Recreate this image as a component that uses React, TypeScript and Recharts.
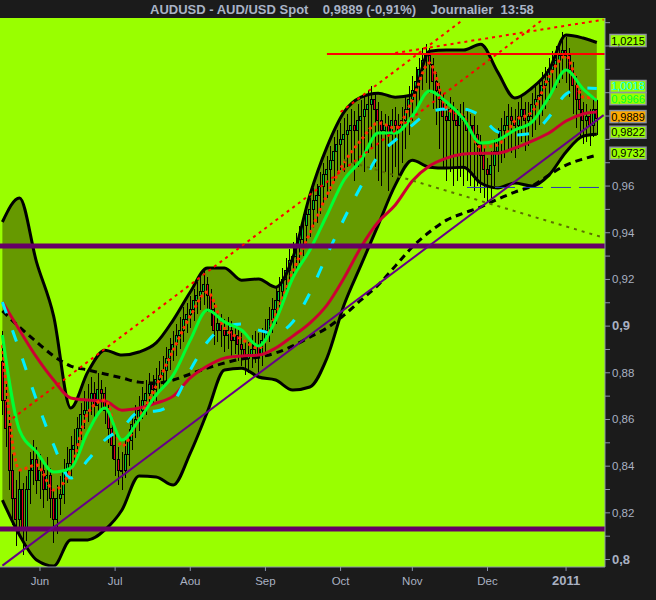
import React from 'react';
import { ComposedChart, Bar, Line, Area, XAxis, YAxis, CartesianGrid, ReferenceLine } from 'recharts';

const FONT = '"Liberation Sans", Arial, sans-serif';

// daily candles, index 0 = 17 May 2010 (weekdays only)
const opens = [
  0.885, 0.868, 0.857, 0.838, 0.826, 0.817, 0.830, 0.813, 0.830, 0.838,
  0.843, 0.834, 0.838, 0.830, 0.836, 0.826, 0.817, 0.826, 0.828, 0.838,
  0.841, 0.847, 0.849, 0.856, 0.862, 0.864, 0.868, 0.871, 0.866, 0.873,
  0.871, 0.864, 0.856, 0.849, 0.843, 0.838, 0.838, 0.845, 0.851, 0.858,
  0.860, 0.864, 0.868, 0.871, 0.875, 0.873, 0.877, 0.879, 0.881, 0.886,
  0.890, 0.892, 0.896, 0.898, 0.903, 0.905, 0.907, 0.911, 0.913, 0.915,
  0.918, 0.913, 0.907, 0.898, 0.901, 0.898, 0.896, 0.898, 0.894, 0.896,
  0.892, 0.890, 0.886, 0.888, 0.890, 0.892, 0.888, 0.894, 0.898, 0.903,
  0.907, 0.911, 0.915, 0.920, 0.924, 0.928, 0.930, 0.935, 0.937, 0.943,
  0.948, 0.950, 0.954, 0.956, 0.960, 0.965, 0.967, 0.971, 0.975, 0.978,
  0.980, 0.982, 0.984, 0.986, 0.984, 0.988, 0.990, 0.993, 0.995, 0.997,
  0.993, 0.988, 0.984, 0.986, 0.982, 0.988, 0.986, 0.984, 0.988, 0.993,
  0.997, 1.001, 1.005, 1.010, 1.014, 1.016, 1.012, 1.005, 1.001, 0.997,
  0.990, 0.988, 0.993, 0.988, 0.986, 0.990, 0.988, 0.984, 0.986, 0.982,
  0.978, 0.973, 0.967, 0.965, 0.969, 0.975, 0.980, 0.984, 0.986, 0.990,
  0.988, 0.986, 0.990, 0.993, 0.988, 0.990, 0.995, 0.997, 0.999, 1.003,
  1.005, 1.010, 1.012, 1.014, 1.016, 1.018, 1.016, 1.010, 1.003, 0.997,
  0.993, 0.988, 0.990, 0.986, 0.993,
];
const closes = [
  0.868, 0.856, 0.838, 0.826, 0.817, 0.830, 0.813, 0.830, 0.838, 0.843,
  0.834, 0.838, 0.830, 0.836, 0.826, 0.817, 0.826, 0.828, 0.838, 0.841,
  0.847, 0.849, 0.856, 0.862, 0.864, 0.868, 0.871, 0.866, 0.873, 0.871,
  0.864, 0.856, 0.849, 0.843, 0.838, 0.838, 0.845, 0.851, 0.858, 0.860,
  0.864, 0.868, 0.871, 0.875, 0.873, 0.877, 0.879, 0.881, 0.886, 0.890,
  0.892, 0.896, 0.898, 0.903, 0.905, 0.907, 0.911, 0.913, 0.915, 0.918,
  0.913, 0.907, 0.898, 0.901, 0.898, 0.896, 0.898, 0.894, 0.896, 0.892,
  0.890, 0.886, 0.888, 0.890, 0.892, 0.888, 0.894, 0.898, 0.903, 0.907,
  0.911, 0.915, 0.920, 0.924, 0.928, 0.930, 0.935, 0.937, 0.943, 0.948,
  0.950, 0.954, 0.956, 0.960, 0.965, 0.967, 0.971, 0.975, 0.978, 0.980,
  0.982, 0.984, 0.986, 0.984, 0.988, 0.990, 0.993, 0.995, 0.997, 0.993,
  0.988, 0.984, 0.986, 0.982, 0.988, 0.986, 0.984, 0.988, 0.993, 0.997,
  1.001, 1.005, 1.010, 1.014, 1.016, 1.012, 1.005, 1.001, 0.997, 0.990,
  0.988, 0.993, 0.988, 0.986, 0.990, 0.988, 0.984, 0.986, 0.982, 0.978,
  0.973, 0.967, 0.965, 0.969, 0.975, 0.980, 0.984, 0.986, 0.990, 0.988,
  0.986, 0.990, 0.993, 0.988, 0.990, 0.995, 0.997, 0.999, 1.003, 1.005,
  1.010, 1.012, 1.014, 1.016, 1.018, 1.016, 1.010, 1.003, 0.997, 0.993,
  0.988, 0.990, 0.986, 0.993, 0.9889,
];
const highs = [
  0.898, 0.875, 0.862, 0.845, 0.834, 0.838, 0.833, 0.836, 0.846, 0.851,
  0.848, 0.845, 0.842, 0.844, 0.839, 0.830, 0.832, 0.836, 0.843, 0.848,
  0.853, 0.856, 0.861, 0.867, 0.872, 0.875, 0.878, 0.876, 0.880, 0.877,
  0.874, 0.867, 0.860, 0.855, 0.848, 0.846, 0.851, 0.856, 0.862, 0.866,
  0.870, 0.874, 0.877, 0.880, 0.879, 0.882, 0.885, 0.887, 0.891, 0.895,
  0.898, 0.901, 0.904, 0.908, 0.910, 0.913, 0.916, 0.919, 0.922, 0.924,
  0.921, 0.916, 0.910, 0.906, 0.905, 0.903, 0.904, 0.902, 0.901, 0.899,
  0.897, 0.894, 0.893, 0.896, 0.898, 0.897, 0.899, 0.903, 0.908, 0.912,
  0.917, 0.921, 0.925, 0.929, 0.933, 0.936, 0.940, 0.943, 0.948, 0.952,
  0.955, 0.959, 0.961, 0.966, 0.970, 0.973, 0.977, 0.981, 0.984, 0.987,
  0.989, 0.991, 0.993, 0.992, 0.995, 0.997, 0.999, 1.001, 1.003, 1.000,
  0.996, 0.992, 0.991, 0.990, 0.993, 0.994, 0.991, 0.994, 0.998, 1.003,
  1.007, 1.011, 1.015, 1.019, 1.021, 1.019, 1.015, 1.009, 1.004, 1.000,
  0.996, 0.998, 0.996, 0.993, 0.995, 0.996, 0.992, 0.991, 0.990, 0.986,
  0.982, 0.977, 0.972, 0.975, 0.980, 0.985, 0.989, 0.992, 0.995, 0.994,
  0.993, 0.996, 0.998, 0.996, 0.996, 1.000, 1.003, 1.005, 1.009, 1.011,
  1.015, 1.018, 1.020, 1.022, 1.026, 1.024, 1.019, 1.013, 1.007, 1.001,
  0.996, 0.995, 0.993, 0.998, 0.997,
];
const lows = [
  0.862, 0.848, 0.830, 0.815, 0.806, 0.812, 0.802, 0.808, 0.824, 0.832,
  0.828, 0.826, 0.822, 0.825, 0.818, 0.807, 0.811, 0.819, 0.824, 0.833,
  0.836, 0.841, 0.844, 0.851, 0.856, 0.859, 0.862, 0.860, 0.862, 0.864,
  0.858, 0.850, 0.843, 0.836, 0.832, 0.830, 0.835, 0.840, 0.847, 0.852,
  0.855, 0.860, 0.862, 0.866, 0.867, 0.868, 0.872, 0.874, 0.876, 0.881,
  0.885, 0.887, 0.890, 0.893, 0.897, 0.899, 0.902, 0.905, 0.907, 0.909,
  0.906, 0.900, 0.892, 0.893, 0.891, 0.889, 0.890, 0.887, 0.888, 0.885,
  0.883, 0.879, 0.880, 0.882, 0.884, 0.880, 0.883, 0.889, 0.893, 0.897,
  0.901, 0.905, 0.909, 0.913, 0.917, 0.920, 0.923, 0.927, 0.930, 0.935,
  0.938, 0.942, 0.944, 0.948, 0.952, 0.955, 0.958, 0.962, 0.965, 0.967,
  0.966, 0.968, 0.970, 0.962, 0.968, 0.972, 0.966, 0.974, 0.976, 0.968,
  0.962, 0.960, 0.966, 0.958, 0.964, 0.968, 0.962, 0.970, 0.976, 0.982,
  0.988, 0.992, 0.996, 1.001, 1.004, 1.000, 0.993, 0.986, 0.976, 0.968,
  0.962, 0.966, 0.960, 0.962, 0.964, 0.960, 0.962, 0.960, 0.958, 0.960,
  0.957, 0.955, 0.953, 0.955, 0.960, 0.966, 0.970, 0.972, 0.975, 0.974,
  0.972, 0.976, 0.979, 0.975, 0.977, 0.981, 0.984, 0.986, 0.990, 0.993,
  0.997, 1.000, 1.002, 1.004, 1.006, 1.004, 0.998, 0.991, 0.985, 0.981,
  0.978, 0.979, 0.977, 0.981, 0.982,
];

// indicator readings, every 5th session
const sampleDays = [
  0, 5, 10, 15, 20, 25, 30, 35, 40, 45, 50, 55, 60, 65, 70, 75, 80, 85,
  90, 95, 100, 105, 110, 115, 120, 125, 130, 135, 140, 145, 150, 155, 160, 165, 170, 174,
];
const upperBand = [
  0.9446, 0.9549, 0.9274, 0.9043, 0.8649, 0.8803, 0.8897, 0.8876, 0.8889, 0.8928,
  0.9026, 0.9146, 0.9249, 0.9249, 0.9197, 0.9202, 0.9167, 0.9292, 0.9561, 0.9767,
  0.9917, 0.9981, 0.9998, 0.9981, 0.9990, 1.0178, 1.0183, 1.0183, 1.0208, 1.0088,
  0.9977, 1.0020, 1.0097, 1.0247, 1.0234, 1.0215,
];
const lowerBand = [
  0.8255, 0.8105, 0.7998, 0.7972, 0.8084, 0.8084, 0.8127, 0.8212, 0.8358, 0.8354,
  0.8319, 0.8456, 0.8632, 0.8812, 0.8820, 0.8782, 0.8769, 0.8726, 0.8739, 0.8863,
  0.9090, 0.9262, 0.9433, 0.9604, 0.9711, 0.9681, 0.9677, 0.9681, 0.9613, 0.9592,
  0.9613, 0.9600, 0.9647, 0.9746, 0.9814, 0.9822,
];
const fastMa = [
  0.8962, 0.8555, 0.8461, 0.8375, 0.8392, 0.8546, 0.8649, 0.8512, 0.8598, 0.8705,
  0.8790, 0.8940, 0.9069, 0.9018, 0.8983, 0.8915, 0.9026, 0.9206, 0.9326, 0.9476,
  0.9626, 0.9711, 0.9827, 0.9827, 0.9900, 1.0007, 0.9960, 0.9887, 0.9784, 0.9797,
  0.9840, 0.9874, 0.9981, 1.0097, 1.0016, 0.9966,
];
const laggedMa = [
  0.9103, 0.8897, 0.8683, 0.8491, 0.8349, 0.8426, 0.8512, 0.8563, 0.8632, 0.8636,
  0.8675, 0.8812, 0.8932, 0.8996, 0.9009, 0.8983, 0.8970, 0.9018, 0.9142, 0.9304,
  0.9459, 0.9600, 0.9729, 0.9797, 0.9861, 0.9917, 0.9930, 0.9930, 0.9900, 0.9832,
  0.9819, 0.9827, 0.9896, 0.9994, 1.0020, 1.0018,
];
const shortMa = [
  0.8919, 0.8384, 0.8405, 0.8298, 0.8384, 0.8628, 0.8683, 0.8486, 0.8606, 0.8743,
  0.8897, 0.9043, 0.9146, 0.8992, 0.8945, 0.8906, 0.9047, 0.9232, 0.9399, 0.9561,
  0.9699, 0.9797, 0.9870, 0.9849, 0.9968, 1.0127, 0.9934, 0.9896, 0.9767, 0.9776,
  0.9879, 0.9917, 1.0067, 1.0157, 0.9981, 0.9977,
];
const midMa = [
  0.9103, 0.8983, 0.8867, 0.8769, 0.8692, 0.8683, 0.8679, 0.8640, 0.8649, 0.8670,
  0.8700, 0.8778, 0.8829, 0.8863, 0.8872, 0.8876, 0.8906, 0.8957, 0.9013, 0.9090,
  0.9206, 0.9339, 0.9446, 0.9519, 0.9622, 0.9686, 0.9720, 0.9737, 0.9741, 0.9741,
  0.9763, 0.9793, 0.9827, 0.9879, 0.9909, 0.9917,
];
const slowMa = [
  0.9065, 0.8996, 0.8932, 0.8872, 0.8829, 0.8812, 0.8795, 0.8778, 0.8760, 0.8756,
  0.8769, 0.8795, 0.8820, 0.8842, 0.8859, 0.8867, 0.8885, 0.8915, 0.8953, 0.8992,
  0.9047, 0.9112, 0.9176, 0.9257, 0.9339, 0.9403, 0.9454, 0.9484, 0.9510, 0.9544,
  0.9574, 0.9600, 0.9647, 0.9690, 0.9716, 0.9732,
];

// drawn levels and trend lines: [session, price]
const horizontalLevels = [0.9343, 0.8131];
const resistanceLine = [[95, 1.0166], [176.4, 1.0166]];
const supportDashLine = [[136, 0.9594], [176.4, 0.9594]];
const risingTrend = [[0, 0.7974], [176, 0.9904]];
const channelTop = [[3, 0.8605], [158, 1.0311]];
const channelInner = [[99, 0.9917], [135, 1.0314]];
const flatTop = [[115, 1.017], [176, 1.0313]];
const fallingTrend = [[100, 0.9711], [176, 0.9379]];

const monthTicks = [11, 33, 55, 77, 99, 120, 142, 165];
const monthLabels = ['Jun', 'Jul', 'Aou', 'Sep', 'Oct', 'Nov', 'Dec', '2011'];
const priceTicks = [
  0.8, 0.81, 0.82, 0.83, 0.84, 0.85, 0.86, 0.87, 0.88, 0.89, 0.9, 0.91,
  0.92, 0.93, 0.94, 0.95, 0.96, 0.97, 0.98, 0.99, 1.0, 1.01, 1.02, 1.03,
];
const lastValues = [1.0215, 1.0018, 0.9966, 0.9889, 0.9822, 0.9732];
const lastLabels = ['1,0215', '1,0018', '0,9966', '0,9889', '0,9822', '0,9732'];
const boxFill = ['#99ff00', '#99ff00', '#99ff00', '#ffaa00', '#99ff00', '#99ff00'];
const boxText = ['#000', '#00ffff', '#00ff33', '#000', '#000', '#000'];

const rows: any[] = closes.map((close, i) => ({
  day: i,
  open: opens[i],
  high: highs[i],
  low: lows[i],
  close,
  range: [lows[i], highs[i]],
}));
sampleDays.forEach((d, k) => {
  Object.assign(rows[d], {
    band: [lowerBand[k], upperBand[k]],
    upper: upperBand[k],
    lower: lowerBand[k],
    fast: fastMa[k],
    lagged: laggedMa[k],
    short: shortMa[k],
    mid: midMa[k],
    slow: slowMa[k],
  });
});

const seg = (pts: number[][]) => pts.map(([x, y]) => ({ x, y }));

function Candle(props: any) {
  const { x, y, width, height, payload } = props;
  if (!payload || height == null) return null;
  const { open, close, high, low } = payload;
  const top = Math.min(y, y + height);
  const span = Math.abs(height) || 1;
  const yOf = (v: number) => top + ((high - v) / (high - low)) * span;
  const cx = Math.round(x + width / 2) + 0.5;
  const bodyTop = yOf(Math.max(open, close));
  const bodyH = Math.max(1, yOf(Math.min(open, close)) - bodyTop);
  return (
    <g shapeRendering="crispEdges">
      <line x1={cx} x2={cx} y1={top} y2={top + span} stroke="#000" strokeWidth={1} />
      <rect
        x={Math.round(x) + 0.5}
        y={bodyTop}
        width={width - 1}
        height={bodyH}
        fill={close >= open ? '#00cc33' : '#dd0022'}
        stroke="#000"
        strokeWidth={1}
      />
    </g>
  );
}

function PriceTick(props: any) {
  const { x, y, payload } = props;
  const h = Math.round(payload.value * 100);
  if (h > 96 || h % 2 !== 0) return null;
  const major = h % 10 === 0;
  const label = String(h / 100).replace('.', ',');
  return (
    <text
      x={x}
      y={y + 4}
      fill="#a9b1c2"
      fontSize={major ? 13 : 11.5}
      fontWeight={major ? 'bold' : 'normal'}
      fontFamily={FONT}
      textAnchor="start"
    >
      {label}
    </text>
  );
}

function MonthTick(props: any) {
  const { x, y, payload } = props;
  const idx = monthTicks.indexOf(payload.value);
  const label = monthLabels[idx];
  const year = label === '2011';
  return (
    <text
      x={x}
      y={y + 12}
      fill="#a9b1c2"
      fontSize={year ? 13 : 11.5}
      fontWeight={year ? 'bold' : 'normal'}
      fontFamily={FONT}
      textAnchor="middle"
    >
      {label}
    </text>
  );
}

function ValueBox(props: any) {
  const { viewBox, text, bg, color } = props;
  if (!viewBox) return null;
  const left = viewBox.x + viewBox.width + 5;
  const cy = viewBox.y - 2;
  return (
    <g>
      <rect x={left} y={cy - 6} width={36} height={12} fill={bg} stroke="#8f969e" strokeWidth={1.5} />
      <text x={left + 18} y={cy + 4} textAnchor="middle" fontSize={11} fontFamily={FONT} fill={color}>
        {text}
      </text>
    </g>
  );
}

export default function App() {
  return (
    <div
      style={{
        position: 'absolute',
        left: 0,
        top: 0,
        width: 656,
        height: 600,
        background: '#1b1b1b',
        fontFamily: FONT,
      }}
    >
      <div
        style={{
          position: 'absolute',
          top: 2,
          left: 150,
          color: '#a9b3c6',
          fontWeight: 'bold',
          fontSize: 13,
          whiteSpace: 'pre',
        }}
      >
        {'AUDUSD - AUD/USD Spot    0,9889 (-0,91%)    Journalier  13:58'}
      </div>
      <ComposedChart width={656} height={600} data={rows} margin={{ top: 18, right: 0, bottom: 0, left: 0 }}>
        <CartesianGrid fill="#99ff00" stroke="none" horizontal={false} vertical={false} />
        <XAxis
          dataKey="day"
          type="number"
          domain={[-0.7, 176.4]}
          allowDataOverflow
          ticks={monthTicks}
          interval={0}
          tick={<MonthTick />}
          tickSize={4}
          height={33}
          stroke="#8a94a8"
        />
        <YAxis
          orientation="right"
          type="number"
          domain={[0.7968, 1.032]}
          allowDataOverflow
          ticks={priceTicks}
          interval={0}
          tick={<PriceTick />}
          tickSize={5}
          tickMargin={2}
          width={51}
          stroke="#8a94a8"
        />

        <Area
          dataKey="band"
          type="monotone"
          fill="#669900"
          fillOpacity={1}
          stroke="none"
          connectNulls
          isAnimationActive={false}
        />
        <Bar dataKey="range" barSize={4} shape={Candle} isAnimationActive={false} />

        <Line dataKey="upper" type="monotone" stroke="#000" strokeWidth={3} dot={false} connectNulls isAnimationActive={false} />
        <Line dataKey="lower" type="monotone" stroke="#000" strokeWidth={3} dot={false} connectNulls isAnimationActive={false} />
        <Line dataKey="slow" type="monotone" stroke="#000" strokeWidth={3} strokeDasharray="7 5" dot={false} connectNulls isAnimationActive={false} />
        <Line dataKey="mid" type="monotone" stroke="#cc0033" strokeWidth={3} dot={false} connectNulls isAnimationActive={false} />
        <Line dataKey="lagged" type="monotone" stroke="#00eeff" strokeWidth={3} strokeDasharray="12 18" dot={false} connectNulls isAnimationActive={false} />
        <Line dataKey="short" type="monotone" stroke="#ff3300" strokeWidth={3} strokeDasharray="3 3" dot={false} connectNulls isAnimationActive={false} />
        <Line dataKey="fast" type="monotone" stroke="#00ff33" strokeWidth={3} dot={false} connectNulls isAnimationActive={false} />

        {horizontalLevels.map((v) => (
          <ReferenceLine key={v} y={v} stroke="#660066" strokeWidth={5} />
        ))}
        <ReferenceLine segment={seg(resistanceLine)} stroke="#ff0000" strokeWidth={2} ifOverflow="hidden" />
        <ReferenceLine segment={seg(supportDashLine)} stroke="#2a3ab5" strokeWidth={1} strokeDasharray="20 8" ifOverflow="hidden" />
        <ReferenceLine segment={seg(risingTrend)} stroke="#660088" strokeWidth={2} ifOverflow="hidden" />
        <ReferenceLine segment={seg(channelTop)} stroke="#ff0000" strokeWidth={2} strokeDasharray="3 4" ifOverflow="hidden" />
        <ReferenceLine segment={seg(channelInner)} stroke="#ff0000" strokeWidth={2} strokeDasharray="3 4" ifOverflow="hidden" />
        <ReferenceLine segment={seg(flatTop)} stroke="#ff0000" strokeWidth={2} strokeDasharray="3 4" ifOverflow="hidden" />
        <ReferenceLine segment={seg(fallingTrend)} stroke="#5c7000" strokeWidth={2} strokeDasharray="3 5" ifOverflow="hidden" />

        {lastValues.map((v, i) => (
          <ReferenceLine
            key={'box' + i}
            y={v}
            stroke="transparent"
            label={<ValueBox text={lastLabels[i]} bg={boxFill[i]} color={boxText[i]} />}
          />
        ))}
      </ComposedChart>
    </div>
  );
}
